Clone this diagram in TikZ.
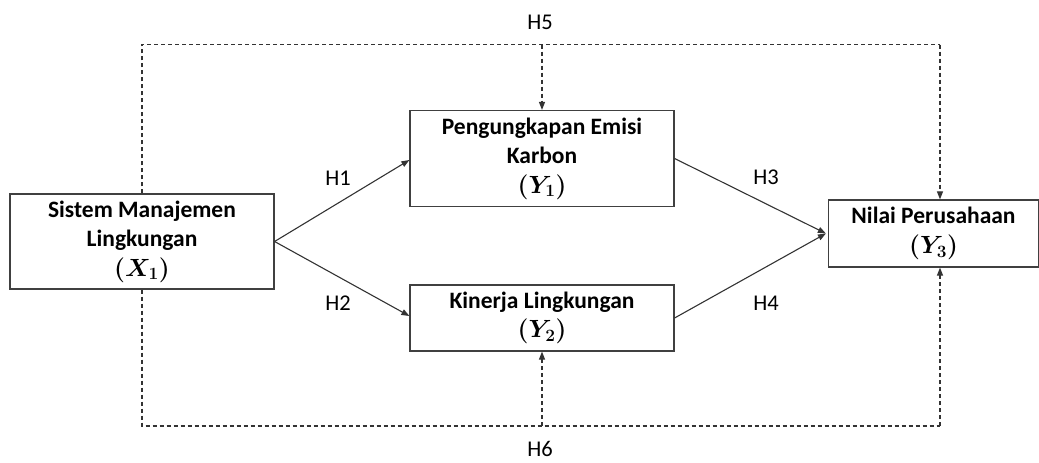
\documentclass[tikz,border=0pt]{standalone}
\usepackage{fontspec}
\setmainfont{Carlito}
\usetikzlibrary{
  arrows.meta,
  calc
}
\tikzset{
  % For the variable boxes.
  varbox/.style={
    draw=black!75,
    line width=1.2pt,
    fill=white,
    align=center,
    inner sep=0pt,
    font=\fontsize{23.5}{29.5}\selectfont\bfseries},
%
  % For direct effects.
  path line/.style={
    draw=black!80,
    line width=1.1pt,
    -{Triangle[length=8pt,width=6pt]}},
%
  % For the dashed mediation paths.
  dash line/.style={
    draw=black!80,
    line width=1.1pt,
    dash pattern=on 4pt off 3pt},
  dash arrow/.style={
    dash line,
    -{Triangle[length=8pt,width=6pt]}},
%
  % For hypothesis labels.
  hyp/.style={
    font=\fontsize{22.5}{26}\selectfont,
    inner sep=0pt},
}
\begin{document}
\begin{tikzpicture}[x=1pt,y=-1pt]
  \useasboundingbox (0,0) rectangle (1039,463);

  \node[varbox, minimum width=264pt, minimum height=95pt] (x1) at (142,241.5)
    {Sistem Manajemen\\Lingkungan\\{\boldmath$(X_1)$}};
  \node[varbox, minimum width=264pt, minimum height=96pt] (y1) at (542,158.5)
    {Pengungkapan Emisi\\Karbon\\{\boldmath$(Y_1)$}};
  \node[varbox, minimum width=264pt, minimum height=66pt] (y2) at (542,318)
    {Kinerja Lingkungan\\{\boldmath$(Y_2)$}};
  \node[varbox, minimum width=210pt, minimum height=67pt] (y3) at (933.5,233.5)
    {Nilai Perusahaan\\{\boldmath$(Y_3)$}};

  \coordinate (tl) at (142,44.5);
  \coordinate (tr) at (940,44.5);
  \coordinate (bl) at (142,426);
  \coordinate (br) at (940,426);

  % Dashed frame round the diagram.
  \draw[dash line] (x1.north) -- (tl) -- (tr);
  \draw[dash line] (x1.south) -- (bl) -- (br);
  \draw[dash arrow] (tr) -- (tr |- y3.north);
  \draw[dash arrow] (br) -- (br |- y3.south);
  \draw[dash arrow] (tl -| y1.north) -- (y1.north);
  \draw[dash arrow] (bl -| y2.south) -- (y2.south);

  \draw[path line] (x1.east) -- ($(y1.west)+(0,1.5)$);
  \draw[path line] (x1.east) -- ($(y2.west)+(0,-2)$);
  \draw[path line] (y1.east) -- ($(y3.west)+(-2,0)$);
  \draw[path line] (y2.east) -- ($(y3.west)+(-2,0)$);

  \node[hyp] (h5) at (540,22) {H5};
  \node[hyp] (h1) at (338,178) {H1};
  \node[hyp] (h2) at (338,303) {H2};
  \node[hyp] (h3) at (766,177) {H3};
  \node[hyp] (h4) at (766,303) {H4};
  \node[hyp] (h6) at (540,449) {H6};
\end{tikzpicture}
\end{document}
